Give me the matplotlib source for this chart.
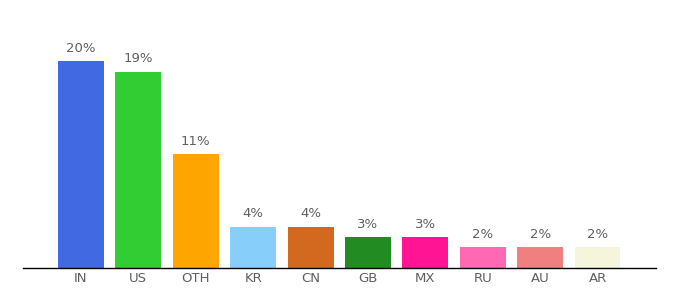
import matplotlib
matplotlib.use("Agg")
import matplotlib.pyplot as plt

countries = ["IN", "US", "OTH", "KR", "CN", "GB", "MX", "RU", "AU", "AR"]
shares = [20, 19, 11, 4, 4, 3, 3, 2, 2, 2]
colors = ["#4169e1", "#32cd32", "#ffa500", "#87cefa", "#d2691e",
          "#228b22", "#ff1493", "#ff69b4", "#f08080", "#f5f5dc"]

fig = plt.figure(figsize=(6.8, 3.0), dpi=100)
ax = fig.add_axes([23 / 680, 32 / 300, 632.5 / 680, 248 / 300])

x = range(len(countries))
bars = ax.bar(x, shares, width=0.8, color=colors)
for b, v in zip(bars, shares):
    ax.annotate(f"{v}%", (b.get_x() + b.get_width() / 2, b.get_height()),
                xytext=(0, 4.5), textcoords="offset points",
                ha="center", va="bottom", fontsize=9.5, color="#5f5f5f")

ax.set_xlim(-1.01, 10.01)
ax.set_ylim(0, 24)
ax.set_xticks(list(x))
ax.set_xticklabels(countries)
ax.tick_params(axis="x", length=0, pad=3, labelsize=9.5, labelcolor="#5f5f5f")
ax.set_yticks([])
for side in ["top", "right", "left"]:
    ax.spines[side].set_visible(False)
ax.spines["bottom"].set_color("#000000")
ax.spines["bottom"].set_linewidth(1)

fig.savefig("out.png", dpi=100)
